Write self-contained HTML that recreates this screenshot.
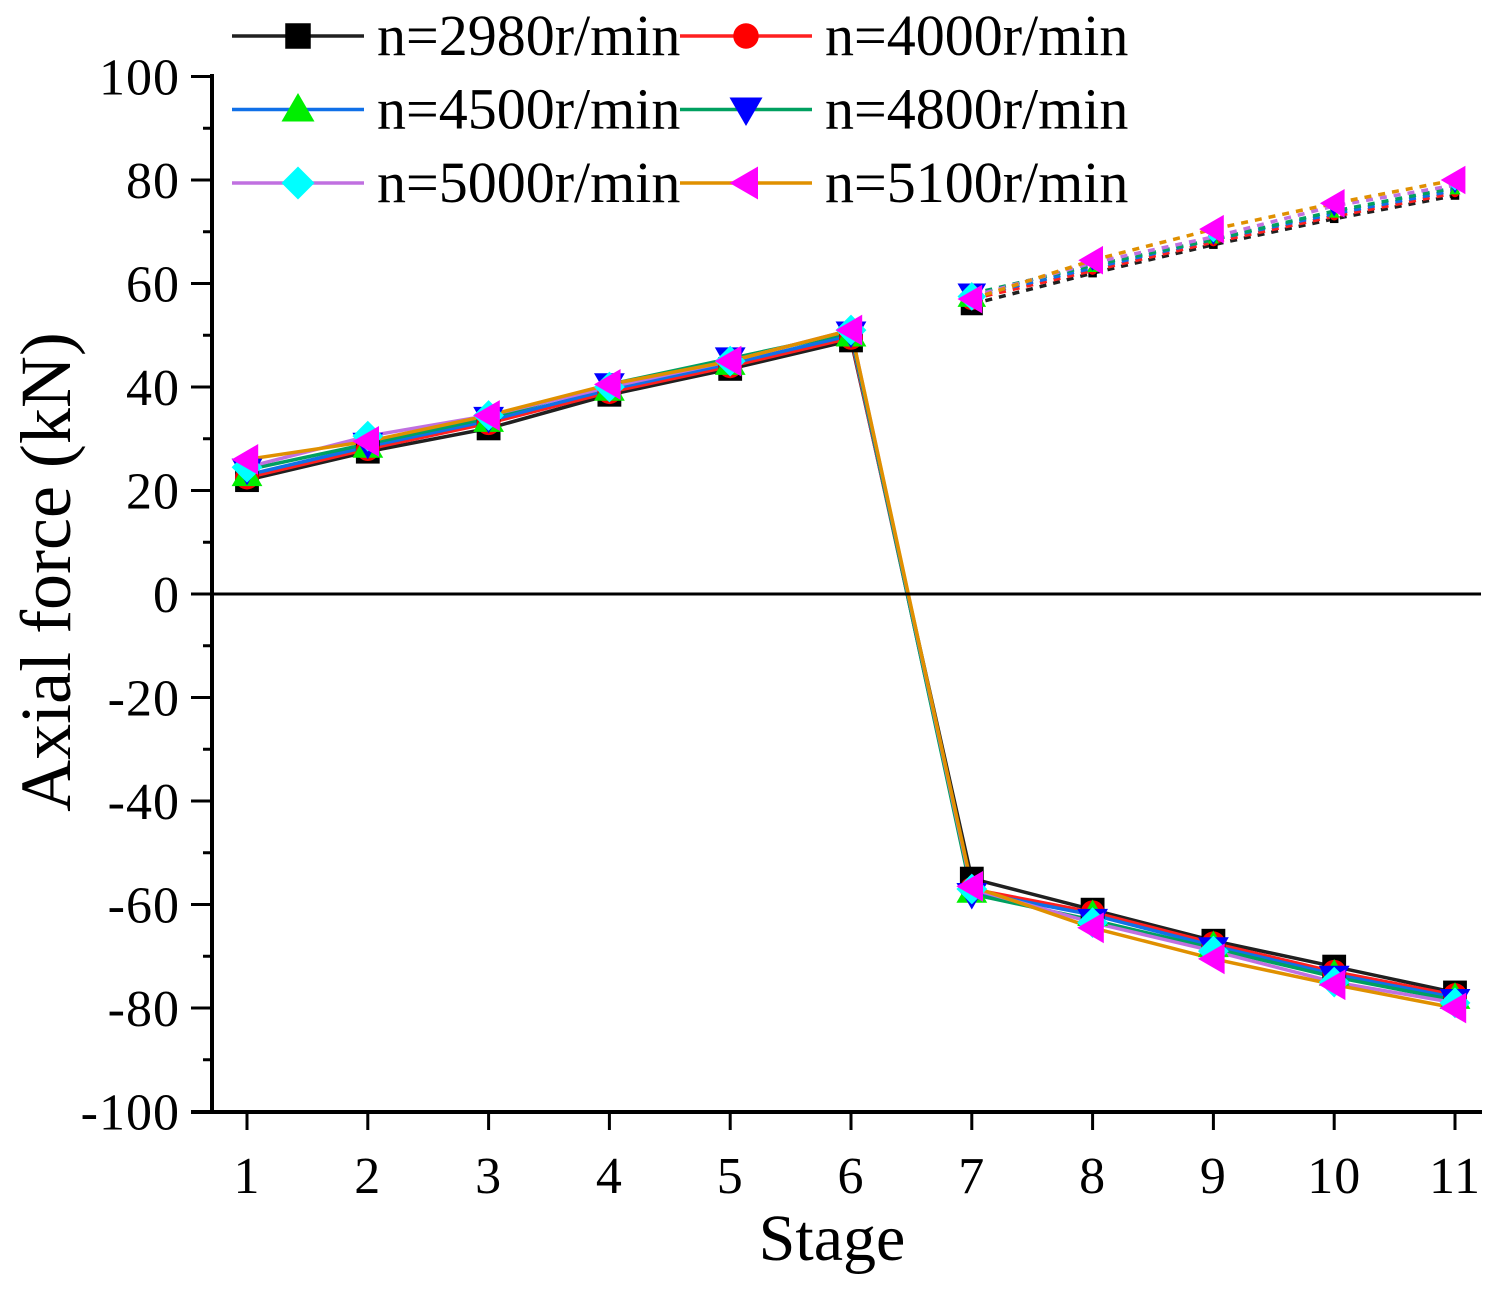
<!DOCTYPE html>
<html><head><meta charset="utf-8"><style>
body{margin:0;background:#fff}
svg text{font-family:"Liberation Serif",serif;fill:#000}
</style></head><body>
<svg id="chart" width="1495" height="1284" xmlns="http://www.w3.org/2000/svg">
<g id="grid"></g><g id="series"></g><g id="axes"></g><g id="legend"></g>
</svg>
<script>
const stages=[1,2,3,4,5,6,7,8,9,10,11];
const yTicks=[100,80,60,40,20,0,-20,-40,-60,-80,-100];
const names=["n=2980r/min","n=4000r/min","n=4500r/min","n=4800r/min","n=5000r/min","n=5100r/min"];
const s2980=[22,27.5,32,38.5,43.5,49,-55,-61,-67,-72,-77];
const s4000=[22.5,28,33,39,44,49.5,-57,-61.5,-67.5,-73,-77.5];
const s4500=[23,28.5,33.5,39.5,44.5,50,-57.5,-62,-68,-73.5,-78];
const s4800=[24,29,34,40.5,45.5,50.5,-58,-63,-68.5,-74,-78.5];
const s5000=[24.5,30.5,34.5,40,45,51,-57,-63.5,-69,-75,-79];
const s5100=[26,29.5,34.5,40.5,45,51,-56.5,-64.5,-70.5,-75.5,-80];
const d2980=[56,62,67.5,72.5,77];
const d4000=[57,62.5,68,73,77.5];
const d4500=[57.5,63,68.5,73.5,78];
const d4800=[58,63.5,68.5,74,78.5];
const d5000=[57.5,64,69,75,79];
const d5100=[57,64.5,70.5,75.5,80];
const series=[s2980,s4000,s4500,s4800,s5000,s5100];
const dashed=[d2980,d4000,d4500,d4800,d5000,d5100];
const lineColors=["#202020","#ff2020","#1070e8","#00a060","#c070e0","#e09000"];
const markColors=["#000","#ff0000","#00ee00","#0000ff","#00ffff","#ff00ff"];
const marks=["square","circle","up","down","diamond","left"];
const NS="http://www.w3.org/2000/svg";
const X=s=>247+(s-1)*120.8, Y=v=>594-v*5.175;
function mk(t,a,p){const e=document.createElementNS(NS,t);for(const k in a)e.setAttribute(k,a[k]);p.appendChild(e);return e;}
const gS=document.getElementById('series'),gA=document.getElementById('axes'),gL=document.getElementById('legend');
function marker(type,x,y,c,p,sz){let e;const r=sz||14;
 if(type=="square")e=mk('rect',{x:x-r*0.85,y:y-r*0.85,width:r*1.7,height:r*1.7,fill:c},p);
 else if(type=="circle")e=mk('circle',{cx:x,cy:y,r:r*0.85,fill:c},p);
 else{let pts;
  if(type=="up")pts=[[x,y-r*1.1],[x-r*1.1,y+r*0.8],[x+r*1.1,y+r*0.8]];
  if(type=="down")pts=[[x,y+r*1.1],[x-r*1.1,y-r*0.8],[x+r*1.1,y-r*0.8]];
  if(type=="diamond")pts=[[x,y-r*1.1],[x+r*1.1,y],[x,y+r*1.1],[x-r*1.1,y]];
  if(type=="left")pts=[[x-r*1.1,y],[x+r*0.8,y-r*1.1],[x+r*0.8,y+r*1.1]];
  e=mk('polygon',{points:pts.map(q=>q.join(',')).join(' '),fill:c},p);}
 return e;}
const z=mk('line',{x1:212,x2:1481,y1:Y(0),y2:Y(0),stroke:'#000','stroke-width':3},gA);


series.forEach((d,i)=>{
 const pl=mk('polyline',{points:d.map((v,j)=>X(stages[j])+','+Y(v)).join(' '),fill:'none',stroke:lineColors[i],'stroke-width':3.5},gS);
 
 
 const dl=mk('polyline',{points:dashed[i].map((v,j)=>X(stages[j+6])+','+Y(v)).join(' '),fill:'none',stroke:lineColors[i],'stroke-width':3.5,'stroke-dasharray':'7,7'},gS);
 
 
});
series.forEach((d,i)=>{
 d.forEach((v,j)=>{const m=marker(marks[i],X(stages[j]),Y(v),markColors[i],gS);
  
  });
 dashed[i].forEach((v,j)=>{const m=marker(marks[i],X(stages[j+6]),Y(v),markColors[i],gS,(i==5||j==0)?13:5);
  
  });
});
mk('line',{x1:212,x2:212,y1:74,y2:1113,stroke:'#000','stroke-width':4},gA);
mk('line',{x1:191,x2:1482,y1:1112,y2:1112,stroke:'#000','stroke-width':4},gA);
yTicks.forEach(v=>{mk('line',{x1:191,x2:212,y1:Y(v),y2:Y(v),stroke:'#000','stroke-width':3},gA);
 const t=mk('text',{x:180,y:Y(v)+18,'text-anchor':'end','font-size':52,'letter-spacing':1},gA);t.textContent=v;
 
 
 if(v>-100){mk('line',{x1:203,x2:212,y1:Y(v-10),y2:Y(v-10),stroke:'#000','stroke-width':3},gA);}
});
stages.forEach(s=>{mk('line',{x1:X(s),x2:X(s),y1:1112,y2:1130,stroke:'#000','stroke-width':3},gA);
 const t=mk('text',{x:X(s),y:1193,'text-anchor':'middle','font-size':52,'letter-spacing':1},gA);t.textContent=s;
 
 });
const xt=mk('text',{x:832,y:1260,'text-anchor':'middle','font-size':66},gA);xt.textContent='Stage';


const yt=mk('text',{x:0,y:0,'text-anchor':'middle','font-size':72,transform:'translate(70,572) rotate(-90)'},gA);yt.textContent='Axial force (kN)';


names.forEach((n,i)=>{const col=i%2,row=Math.floor(i/2);
 const lx=col?680:232, ly=36+row*73.5;
 const g=mk('g',{},gL);
 
 
 mk('line',{x1:lx,x2:lx+132,y1:ly,y2:ly,stroke:lineColors[i],'stroke-width':3.5},g);
 marker(marks[i],lx+66,ly,markColors[i],g,15);
 const t=mk('text',{x:lx+145,y:ly+19,'font-size':58},g);t.textContent=n;});
</script>
</body></html>
